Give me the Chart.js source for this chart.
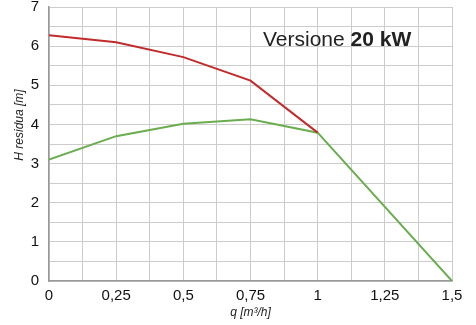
<!DOCTYPE html>
<html>
<head>
<meta charset="utf-8">
<script src="https://cdn.jsdelivr.net/npm/chart.js@4/dist/chart.umd.min.js"></script>
<style>
  html, body { margin: 0; padding: 0; background: #fff; }
  #wrap { width: 476px; height: 325px; }
</style>
</head>
<body>
<div id="wrap"><canvas id="chart1"></canvas></div>
<script>
var qRed = [0, 0.25, 0.5, 0.75, 1];
var hRed = [6.28, 6.1, 5.72, 5.12, 3.79];
var qGreen = [0, 0.25, 0.5, 0.75, 1, 1.5];
var hGreen = [3.1, 3.7, 4.02, 4.13, 3.79, 0];

function toPoints(xs, ys) {
    var pts = [];
    for (var i = 0; i < xs.length; i++) {
        pts.push({ x: xs[i], y: ys[i] });
    }
    return pts;
}

var fontName = "'Liberation Sans', Arial, sans-serif";

// titles and the "Versione" label drawn by hand
var labelsPlugin = {
    id: "labels",
    afterDraw: function (chart) {
        var c = chart.ctx;
        var a = chart.chartArea;
        c.save();
        c.fillStyle = "#222";
        c.textBaseline = "middle";

        c.font = "21px " + fontName;
        var t1 = "Versione ";
        var x0 = 263;
        c.textAlign = "left";
        c.fillText(t1, x0, 40);
        var w = c.measureText(t1).width;
        c.font = "bold 21px " + fontName;
        c.fillText("20 kW", x0 + w, 40);

        c.font = "italic 12px " + fontName;
        c.textAlign = "center";
        c.fillText("q [m\u00b3/h]", (a.left + a.right) / 2, 313);

        c.translate(20, 125);
        c.rotate(-Math.PI / 2);
        c.fillText("H residua [m]", 0, 0);
        c.restore();
    }
};

var ctx = document.getElementById("chart1").getContext("2d");
var myChart = new Chart(ctx, {
    type: "line",
    data: {
        datasets: [
            {
                label: "Red",
                data: toPoints(qRed, hRed),
                borderColor: "#c32a2a",
                borderWidth: 2,
                pointRadius: 0,
                tension: 0,
            },
            {
                label: "Green",
                data: toPoints(qGreen, hGreen),
                borderColor: "#6aad4f",
                borderWidth: 2,
                pointRadius: 0,
                tension: 0,
            },
        ],
    },
    options: {
        responsive: true,
        maintainAspectRatio: false,
        animation: false,
        layout: { padding: { top: 7, right: 24, left: 0, bottom: 0 } },
        plugins: {
            legend: { display: false },
            tooltip: { enabled: false },
        },
        scales: {
            x: {
                type: "linear",
                min: 0,
                max: 1.5,
                afterFit: function (s) {
                    s.height = 44;
                    s.paddingLeft = 0;
                    s.paddingRight = 0;
                },
                ticks: {
                    stepSize: 0.125,
                    autoSkip: false,
                    maxRotation: 0,
                    padding: 6,
                    color: "#111",
                    font: { family: fontName, size: 15 },
                    callback: function (v) {
                        if (Math.abs(v * 4 - Math.round(v * 4)) > 1e-6) return "";
                        return String(v).replace(".", ",");
                    },
                },
                grid: { color: "#cccccc", lineWidth: 1, drawTicks: false },
                border: { color: "#999", width: 1.5 },
            },
            y: {
                min: 0,
                max: 7,
                afterFit: function (s) {
                    s.width = 49;
                    s.paddingTop = 0;
                    s.paddingBottom = 0;
                },
                ticks: {
                    stepSize: 0.5,
                    autoSkip: false,
                    padding: 10,
                    color: "#111",
                    font: { family: fontName, size: 15 },
                    callback: function (v) {
                        return Number.isInteger(v) ? String(v) : "";
                    },
                },
                grid: { color: "#cccccc", lineWidth: 1, drawTicks: false },
                border: { color: "#999", width: 1.5 },
            },
        },
    },
    plugins: [labelsPlugin],
});
</script>
</body>
</html>
